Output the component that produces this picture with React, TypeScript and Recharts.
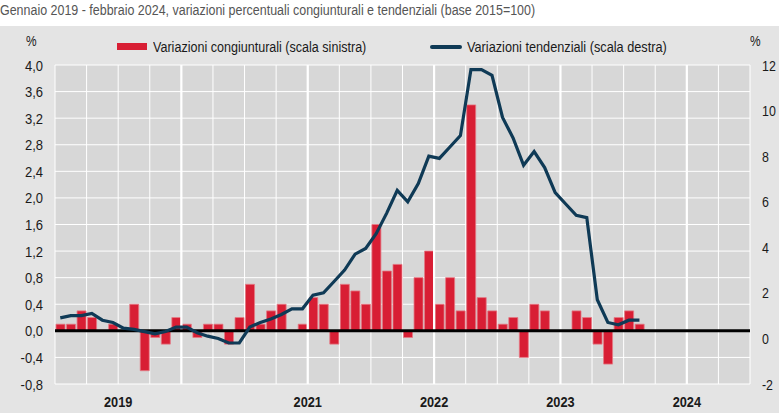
import React from 'react';
import { ComposedChart, Bar, Line, XAxis, YAxis, CartesianGrid, ReferenceLine } from 'recharts';

// monthly values, first slot = gennaio 2019
const congiunturali = [
  0.1, 0.1, 0.3, 0.2, 0, 0.1, 0, 0.4, -0.6, -0.1, -0.2, 0.2,
  0.1, -0.1, 0.1, 0.1, -0.2, 0.2, 0.7, 0.1, 0.3, 0.4, 0, 0.1,
  0.5, 0.4, -0.2, 0.7, 0.6, 0.4, 1.6, 0.9, 1.0, -0.1, 0.8, 1.2,
  0.4, 0.8, 0.3, 3.4, 0.5, 0.3, 0.1, 0.2, -0.4, 0.4, 0.3, 0,
  0, 0.3, 0.2, -0.2, -0.5, 0.2, 0.3, 0.1,
];
const tendenziali = [
  0.9, 1.0, 1.0, 1.1, 0.8, 0.7, 0.45, 0.4, 0.3, 0.2, 0.3, 0.5,
  0.5, 0.25, 0.1, 0.0, -0.2, -0.2, 0.5, 0.7, 0.85, 1.05, 1.3, 1.3,
  1.9, 2.0, 2.5, 3.0, 3.7, 3.95, 4.6, 5.5, 6.5, 6.0, 6.8, 8.0,
  7.9, 8.4, 8.9, 11.8, 11.8, 11.55, 9.7, 8.8, 7.6, 8.2, 7.5, 6.4,
  5.9, 5.4, 5.3, 1.7, 0.7, 0.6, 0.8, 0.8,
];

const SLOTS = 66;
const gridTicks = [0, 3, 6, 9, 12, 15, 18, 21, 24, 27, 30, 33, 36, 39, 42, 45, 48, 51, 54, 57, 60, 63, 66];
const yearBreaks = [12, 24, 36, 48, 60];
const yearTicks = [6, 24, 36, 48, 60];
const yearLabels = ['2019', '2021', '2022', '2023', '2024'];
const leftTicks = [-0.8, -0.4, 0, 0.4, 0.8, 1.2, 1.6, 2.0, 2.4, 2.8, 3.2, 3.6, 4.0];
const rightTicks = [-2, 0, 2, 4, 6, 8, 10, 12];

const data = congiunturali.map((v, i) => ({ t: i + 0.5, cong: v, tend: tendenziali[i] }));

const FONT = "'Liberation Sans', Arial, sans-serif";
const RED = '#d81e34';
const NAVY = '#0f3a56';
const INK = '#1a1a1a';

const fmt = (v: number) => v.toFixed(1).replace('.', ',');

// narrow (Arial Narrow-like) tick text, squeezed around its anchor
function NarrowTick(props: any) {
  const { x, y, payload, textAnchor, label, sx, size, bold, dy } = props;
  return (
    <g transform={`translate(${x},${y})`}>
      <text
        transform={`scale(${sx},1)`}
        textAnchor={textAnchor}
        dy={dy}
        fill={INK}
        fontSize={size}
        fontWeight={bold ? 'bold' : 'normal'}
        fontFamily={FONT}
      >
        {label(payload.value)}
      </text>
    </g>
  );
}

const narrow = (extra: React.CSSProperties = {}): React.CSSProperties => ({
  position: 'absolute',
  whiteSpace: 'nowrap',
  transformOrigin: 'left center',
  ...extra,
});

export default function App() {
  return (
    <div style={{ position: 'absolute', left: 0, top: 0, width: 779, height: 413, background: '#fff', fontFamily: FONT, overflow: 'hidden' }}>
      <div style={narrow({ left: 0, top: 2, fontSize: 14, lineHeight: '16px', color: '#555', transform: 'scaleX(0.89)' })}>
        Gennaio 2019 - febbraio 2024, variazioni percentuali congiunturali e tendenziali (base 2015=100)
      </div>
      <div style={{ position: 'absolute', left: 0, top: 26, width: 779, height: 387, background: '#e4e4e4' }}>
        <ComposedChart width={779} height={387} data={data} margin={{ top: 39, right: 0, bottom: 0, left: 0 }}>
          <XAxis xAxisId={0} type="number" dataKey="t" domain={[0, SLOTS]} ticks={gridTicks} height={0} hide allowDataOverflow />
          <XAxis
            xAxisId="years"
            type="number"
            dataKey="t"
            domain={[0, SLOTS]}
            ticks={yearTicks}
            interval={0}
            axisLine={false}
            tickLine={false}
            tickSize={0}
            tickMargin={12}
            height={29}
            tick={(p: any) => (
              <NarrowTick {...p} label={(v: number) => yearLabels[yearTicks.indexOf(v)]} sx={0.85} size={15} bold dy="0.71em" />
            )}
          />
          <YAxis
            yAxisId="left"
            domain={[-0.8, 4]}
            ticks={leftTicks}
            interval={0}
            axisLine={false}
            tickLine={false}
            tickSize={0}
            tickMargin={12}
            width={55}
            tick={(p: any) => <NarrowTick {...p} label={fmt} sx={0.84} size={15.5} dy="0.355em" />}
          />
          <YAxis
            yAxisId="right"
            orientation="right"
            domain={[-2, 12]}
            ticks={rightTicks}
            interval={0}
            axisLine={false}
            tickLine={false}
            tickSize={0}
            tickMargin={12}
            width={29}
            tick={(p: any) => <NarrowTick {...p} label={(v: number) => String(v)} sx={0.8} size={15.5} dy="0.355em" />}
          />
          <CartesianGrid xAxisId={0} yAxisId="left" stroke="#ffffff" strokeWidth={1} fill="#d7d7d7" fillOpacity={1} />
          {yearBreaks.map((x) => (
            <ReferenceLine key={x} x={x} xAxisId={0} yAxisId="left" stroke="#ffffff" strokeWidth={2.2} />
          ))}
          <Bar xAxisId={0} yAxisId="left" dataKey="cong" barSize={9} fill={RED} stroke="#e57884" strokeWidth={0.8} isAnimationActive={false} />
          <ReferenceLine y={0} yAxisId="left" xAxisId={0} stroke="#000" strokeWidth={3} />
          <Line xAxisId={0} yAxisId="right" type="linear" dataKey="tend" stroke={NAVY} strokeWidth={3.2} dot={false} activeDot={false} isAnimationActive={false} />
        </ComposedChart>
      </div>
      <div style={narrow({ left: 26, top: 33, fontSize: 14, lineHeight: '16px', color: INK, transform: 'scaleX(0.85)' })}>%</div>
      <div style={narrow({ left: 750, top: 33, fontSize: 14, lineHeight: '16px', color: INK, transform: 'scaleX(0.85)' })}>%</div>
      <div style={{ position: 'absolute', left: 117, top: 43, width: 30, height: 7, background: RED }} />
      <div style={narrow({ left: 153, top: 38, fontSize: 15.5, lineHeight: '18px', color: INK, transform: 'scaleX(0.81)' })}>
        Variazioni congiunturali (scala sinistra)
      </div>
      <div style={{ position: 'absolute', left: 430, top: 44.5, width: 32, height: 4, borderRadius: 2, background: NAVY }} />
      <div style={narrow({ left: 467, top: 38, fontSize: 15.5, lineHeight: '18px', color: INK, transform: 'scaleX(0.82)' })}>
        Variazioni tendenziali (scala destra)
      </div>
    </div>
  );
}
